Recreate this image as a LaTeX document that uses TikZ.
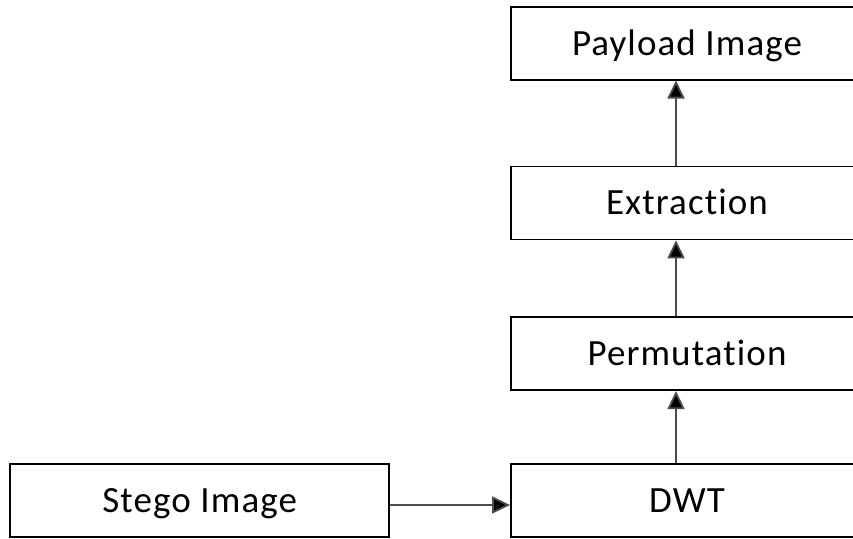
\documentclass[tikz,border=0pt]{standalone}
\usepackage{fontspec}
\setmainfont{Carlito}[Ligatures=NoCommon, LetterSpace=3]
\usetikzlibrary{positioning,arrows.meta}

\begin{document}
\begin{tikzpicture}[x=1pt, y=1pt,
    block/.style={draw, line width=1.8pt, minimum width=352pt, minimum height=73pt,
      inner sep=0pt, text height=24pt, text depth=0pt,
      font=\fontsize{37}{40}\selectfont},
    link/.style={line width=1.8pt, draw=black!70, -{Triangle[length=18pt,width=17pt,fill=black]}}]
\useasboundingbox (0,0) rectangle (853,-538);
% main chain
    \node[block] (dwt) at (687,-500.5) {DWT};
    \node[block, above=72pt of dwt] (perm) {Permutation};
    \node[block, above=76pt of perm] (extr) {Extraction};
    \node[block, above=85pt of extr] (payload) {Payload Image};

% input
    \node[block, minimum width=379pt, left=120pt of dwt] (stego) {Stego Image};

    \draw[link] ([yshift=-4.5pt]stego.east) -- ([yshift=-4.5pt]dwt.west);
    \draw[link] ([xshift=-11pt]dwt.north) -- ([xshift=-11pt]perm.south);
    \draw[link] ([xshift=-11pt]perm.north) -- ([xshift=-11pt]extr.south);
    \draw[link] ([xshift=-11pt]extr.north) -- ([xshift=-11pt]payload.south);
\end{tikzpicture}
\end{document}
